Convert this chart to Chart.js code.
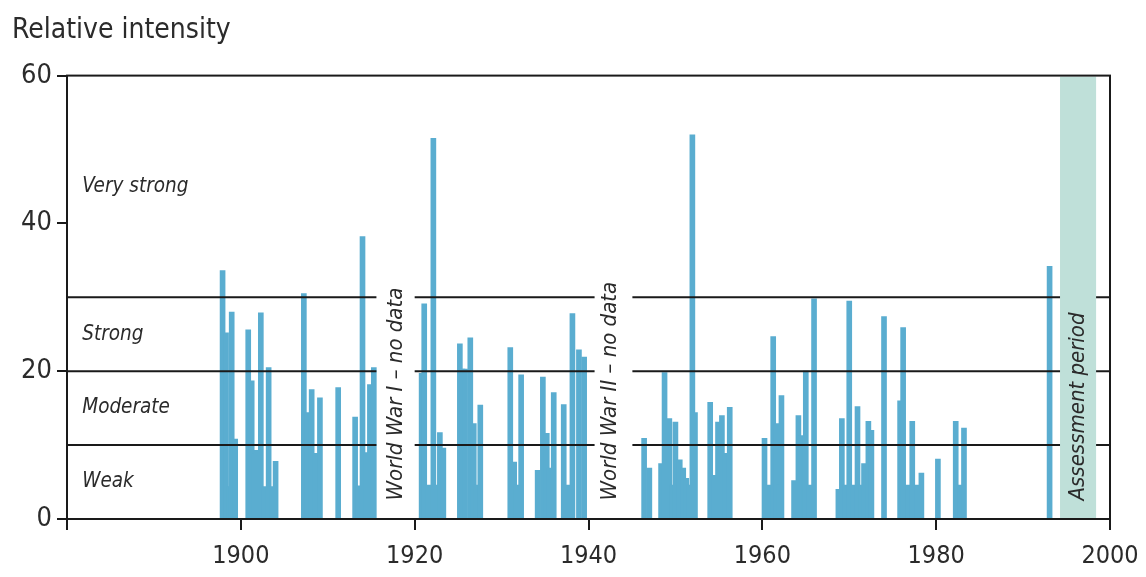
<!DOCTYPE html>
<html lang="en">
<head>
    <meta charset="UTF-8">
    <title>Relative intensity</title>
    <style>
        * {
            margin: 0;
            padding: 0;
            box-sizing: border-box;
        }

        body {
            background: #fff;
        }

        .chart-box {
            width: 1146px;
            height: 577px;
            position: relative;
        }
    </style>
</head>
<body>

    <div class="chart-box">
        <canvas id="intensityChart"></canvas>
    </div>

    <script src="https://cdn.jsdelivr.net/npm/chart.js"></script>
    <script>
        // event dates (fractional years) and their relative intensity
        const eventYears = [
            1897.9, 1898.3, 1898.65, 1898.95, 1899.35,
            1900.85, 1901.25, 1901.55, 1901.8, 1902.3, 1902.7, 1903.2, 1903.6, 1904.0,
            1907.25, 1907.65, 1908.15, 1908.55, 1909.1,
            1911.2,
            1913.15, 1913.55, 1914.0, 1914.4, 1914.85, 1915.3,
            1920.8, 1921.1, 1921.6, 1922.15, 1922.55, 1922.9, 1923.3,
            1925.2, 1925.5, 1925.8, 1926.4, 1926.8, 1927.15, 1927.55,
            1931.0, 1931.45, 1931.75, 1932.25,
            1934.15, 1934.75, 1935.2, 1935.55, 1936.0,
            1937.15, 1937.65, 1938.15, 1938.9, 1939.5,
            1946.4, 1947.0,
            1948.35, 1948.75, 1949.3, 1949.65, 1950.0, 1950.5, 1950.9, 1951.25, 1951.6, 1951.95, 1952.25,
            1954.0, 1954.45, 1954.9, 1955.35, 1955.8, 1956.25,
            1960.25, 1960.8, 1961.25, 1961.65, 1961.9, 1962.2,
            1963.65, 1964.15, 1964.5, 1964.8, 1965.0, 1965.45, 1965.95,
            1968.75, 1969.15, 1969.55, 1970.0, 1970.5, 1970.95, 1971.4, 1971.7, 1972.2, 1972.55,
            1974.0,
            1975.85, 1976.2, 1976.75, 1977.25, 1977.8, 1978.3,
            1980.2,
            1982.25, 1982.75, 1983.2,
            1993.05
        ];
        const eventValues = [
            33.6, 25.2, 4.4, 28.0, 10.8,
            25.6, 18.7, 8.8, 9.3, 27.9, 4.4, 20.5, 4.4, 7.8,
            30.5, 14.4, 17.5, 8.9, 16.4,
            17.8,
            13.8, 4.5, 38.2, 9.0, 18.2, 20.5,
            19.7, 29.1, 4.6, 51.5, 4.6, 11.7, 9.6,
            23.7, 20.3, 20.3, 24.5, 12.9, 4.6, 15.4,
            23.2, 7.7, 4.6, 19.5,
            6.6, 19.2, 11.6, 6.9, 17.1,
            15.5, 4.6, 27.8, 22.9, 21.9,
            10.9, 6.9,
            7.5, 19.8, 13.6, 4.6, 13.1, 8.0, 6.9, 5.5, 4.6, 52.0, 14.4,
            15.8, 5.9, 13.1, 14.0, 8.9, 15.1,
            10.9, 4.6, 24.7, 12.9, 4.6, 16.7,
            5.2, 14.0, 11.3, 10.3, 20.0, 4.6, 29.8,
            4.0, 13.6, 4.6, 29.5, 4.6, 15.2, 4.6, 7.5, 13.2, 12.0,
            27.4,
            16.0, 25.9, 4.6, 13.2, 4.6, 6.2,
            8.1,
            13.2, 4.6, 12.3,
            34.2
        ];

        // class limits and their labels
        const classLimits = [10, 20, 30];
        const classNames = ['Weak', 'Moderate', 'Strong', 'Very strong'];
        const classLabelY = [5, 15, 25, 45];

        // periods without data (lines are interrupted there)
        const gapStarts = [1915.6, 1940.7];
        const gapEnds = [1920.0, 1945.05];
        const gapTexts = ['World War I \u2013 no data', 'World War II \u2013 no data'];
        const gapTextX = [1917.85, 1942.55];

        const assessmentStart = 1994.25;
        const assessmentEnd = 1998.4;
        const assessmentText = 'Assessment period';

        const FONT = "'Liberation Sans Narrow', 'DejaVu Sans Condensed', 'DejaVu Sans', sans-serif";
        const INK = '#2b2b2b';

        // threshold lines, broken at the no-data periods
        function limitLine(level) {
            const pts = [{ x: 1880, y: level }];
            for (let i = 0; i < gapStarts.length; i++) {
                pts.push({ x: gapStarts[i], y: level });
                pts.push({ x: (gapStarts[i] + gapEnds[i]) / 2, y: null });
                pts.push({ x: gapEnds[i], y: level });
            }
            pts.push({ x: 2000, y: level });
            return pts;
        }

        const limitSets = classLimits.map(function (level) {
            return {
                type: 'line',
                data: limitLine(level),
                borderColor: '#1a1a1a',
                borderWidth: 2,
                pointRadius: 0,
                spanGaps: false,
                order: 0
            };
        });

        const extras = {
            id: 'extras',
            afterDatasetsDraw(chart) {
                const ctx = chart.ctx;
                const xs = chart.scales.x;
                const ys = chart.scales.y;
                const area = chart.chartArea;

                // assessment band
                const b0 = xs.getPixelForValue(assessmentStart);
                const b1 = xs.getPixelForValue(assessmentEnd);
                ctx.save();
                ctx.fillStyle = '#bfe0d9';
                ctx.fillRect(b0, area.top + 1, b1 - b0, area.bottom - area.top - 1);

                // class labels
                ctx.fillStyle = INK;
                ctx.font = 'italic 20.5px ' + FONT;
                ctx.textAlign = 'left';
                ctx.textBaseline = 'middle';
                const lx = xs.getPixelForValue(1881.75);
                classNames.forEach(function (name, i) {
                    ctx.fillText(name, lx, ys.getPixelForValue(classLabelY[i]));
                });

                // rotated notes
                ctx.font = 'italic 22px ' + FONT;
                function vertical(text, xv) {
                    ctx.save();
                    ctx.translate(xs.getPixelForValue(xv), ys.getPixelForValue(2.5));
                    ctx.rotate(-Math.PI / 2);
                    ctx.textAlign = 'left';
                    ctx.textBaseline = 'middle';
                    ctx.fillText(text, 0, 0);
                    ctx.restore();
                }
                gapTexts.forEach(function (t, i) { vertical(t, gapTextX[i]); });
                vertical(assessmentText, (assessmentStart + assessmentEnd) / 2);

                // frame
                ctx.strokeStyle = '#1a1a1a';
                ctx.lineWidth = 2;
                ctx.strokeRect(area.left, area.top, area.right - area.left, area.bottom - area.top);
                ctx.restore();
            }
        };

        const ctx = document.getElementById('intensityChart').getContext('2d');
        new Chart(ctx, {
            type: 'bar',
            data: {
                datasets: [{
                    data: eventYears.map(function (y, i) { return { x: y, y: eventValues[i] }; }),
                    backgroundColor: '#5aadd0',
                    barThickness: 5,
                    grouped: false,
                    order: 1
                }].concat(limitSets)
            },
            options: {
                responsive: true,
                maintainAspectRatio: false,
                animation: false,
                layout: { padding: { top: 0, left: 12, right: 36, bottom: 0 } },
                plugins: {
                    legend: { display: false },
                    tooltip: { enabled: false },
                    title: {
                        display: true,
                        text: 'Relative intensity',
                        align: 'start',
                        color: INK,
                        font: { family: FONT, size: 28, weight: 'normal' },
                        padding: { top: 14, bottom: 28 }
                    }
                },
                scales: {
                    x: {
                        type: 'linear',
                        min: 1880,
                        max: 2000,
                        offset: false,
                        border: { display: true, color: '#1a1a1a', width: 2 },
                        grid: { offset: false, drawOnChartArea: false, drawTicks: true, tickLength: 11, color: '#1a1a1a', lineWidth: 2 },
                        ticks: {
                            stepSize: 20,
                            autoSkip: false,
                            maxRotation: 0,
                            padding: 11,
                            color: INK,
                            font: { family: FONT, size: 25 },
                            callback: function (v) { return v === 1880 ? '' : String(v); }
                        },
                        afterFit: function (scale) {
                            scale.height = 58;
                            scale.paddingRight = 0;
                            scale.paddingLeft = 0;
                        }
                    },
                    y: {
                        min: 0,
                        max: 60,
                        border: { display: true, color: '#1a1a1a', width: 2 },
                        grid: { drawOnChartArea: false, drawTicks: true, tickLength: 10, color: '#1a1a1a', lineWidth: 2 },
                        ticks: {
                            stepSize: 20,
                            padding: 5,
                            color: INK,
                            font: { family: FONT, size: 27 }
                        },
                        afterFit: function (scale) { scale.width = 55; }
                    }
                }
            },
            plugins: [extras]
        });
    </script>

</body>
</html>
